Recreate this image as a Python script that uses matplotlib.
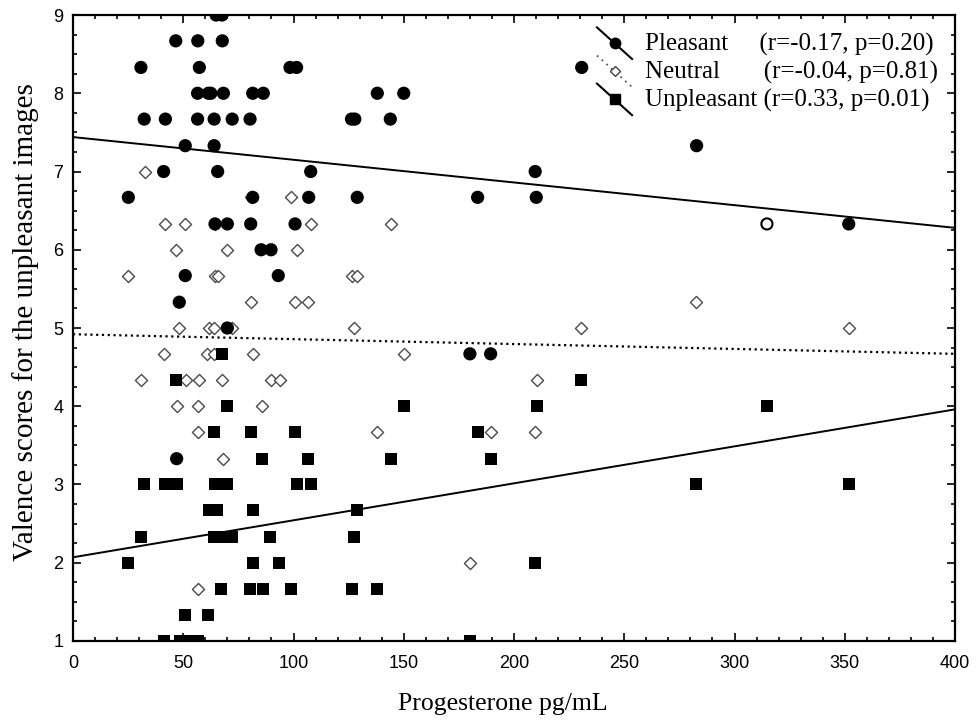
import matplotlib
matplotlib.use("Agg")
import matplotlib.pyplot as plt
from matplotlib.legend_handler import HandlerBase
from matplotlib.lines import Line2D
from matplotlib.ticker import MultipleLocator

# --------- DATA ----------
# Pleasant images (filled circles); one point drawn hollow
pleasant_x = [64.9, 67.6,
              46.6, 56.6, 67.7,
              30.8, 57.3, 98.4, 101.4, 230.7,
              56.5, 61.4, 62.5, 68.2, 81.5, 86.3, 138, 150,
              32.3, 41.9, 56.5, 64, 72.2, 80.3, 126.3, 127.8, 143.9,
              50.9, 64, 282.8,
              41.1, 65.6, 107.8, 209.6,
              25.1, 81.5, 106.9, 128.9, 183.5, 210.1,
              64.4, 70, 80.6, 100.7, 314.7, 351.8,
              85.3, 89.8,
              50.9, 93.1,
              48.2,
              70,
              180, 189.4,
              47]
pleasant_y = [9, 9,
              8.67, 8.67, 8.67,
              8.33, 8.33, 8.33, 8.33, 8.33,
              8, 8, 8, 8, 8, 8, 8, 8,
              7.67, 7.67, 7.67, 7.67, 7.67, 7.67, 7.67, 7.67, 7.67,
              7.33, 7.33, 7.33,
              7, 7, 7, 7,
              6.67, 6.67, 6.67, 6.67, 6.67, 6.67,
              6.33, 6.33, 6.33, 6.33, 6.33, 6.33,
              6, 6,
              5.67, 5.67,
              5.33,
              5,
              4.67, 4.67,
              3.33]
pleasant_hollow = [314.7]

# Neutral images (open diamonds)
neutral_x = [32.7,
             80.6, 98.7,
             41.9, 50.9, 64.4, 107.8, 144.1,
             46.6, 70, 101.4,
             25.1, 64.4, 65.9, 126.4, 128.9,
             80.6, 100.7, 106.7, 282.7,
             48.2, 61.7, 64, 72.2, 127.4, 230.2, 351.8,
             41.1, 60.6, 64, 81.5, 150,
             30.8, 51.2, 57.3, 67.7, 89.8, 93.9, 210.3,
             47, 56.5, 85.6,
             56.5, 138, 189.4, 209.6,
             68.2,
             180,
             56.5]
neutral_y = [7,
             6.67, 6.67,
             6.33, 6.33, 6.33, 6.33, 6.33,
             6, 6, 6,
             5.67, 5.67, 5.67, 5.67, 5.67,
             5.33, 5.33, 5.33, 5.33,
             5, 5, 5, 5, 5, 5, 5,
             4.67, 4.67, 4.67, 4.67, 4.67,
             4.33, 4.33, 4.33, 4.33, 4.33, 4.33, 4.33,
             4, 4, 4,
             3.67, 3.67, 3.67, 3.67,
             3.33,
             2,
             1.67]

# Unpleasant images (filled squares)
unpleasant_x = [67.7,
                46.6, 230.2,
                70, 150, 210.3, 314.7,
                64, 80.6, 100.7, 183.5,
                85.6, 106.7, 144.1, 189.4,
                32.3, 41.9, 47, 64.4, 70, 101.4, 107.8, 282.7, 351.8,
                61.7, 65.2, 81.5, 128.9,
                30.8, 64, 68, 72.1, 89.5, 127.4,
                25.1, 81.5, 93.4, 209.6,
                67.1, 80.3, 86, 98.9, 126.7, 138,
                50.9, 61.1,
                41.1, 48.5, 51.5, 56.8, 180]
unpleasant_y = [4.67,
                4.33, 4.33,
                4, 4, 4, 4,
                3.67, 3.67, 3.67, 3.67,
                3.33, 3.33, 3.33, 3.33,
                3, 3, 3, 3, 3, 3, 3, 3, 3,
                2.67, 2.67, 2.67, 2.67,
                2.33, 2.33, 2.33, 2.33, 2.33, 2.33,
                2, 2, 2, 2,
                1.67, 1.67, 1.67, 1.67, 1.67, 1.67,
                1.33, 1.33,
                1, 1, 1, 1, 1]

# fitted regression lines, value at x=0 and x=400
fit_x = [0, 400]
pleasant_fit = [7.44, 6.28]
neutral_fit = [4.92, 4.67]
unpleasant_fit = [2.07, 3.96]

labels = ["Pleasant     (r=-0.17, p=0.20)",
          "Neutral       (r=-0.04, p=0.81)",
          "Unpleasant (r=0.33, p=0.01)"]

SERIF = "Liberation Serif"
SANS = "Liberation Sans"


class SlantHandler(HandlerBase):
    # legend key: a short falling line with the marker in its middle
    def __init__(self, line_kw, marker_kw):
        super().__init__()
        self.line_kw = line_kw
        self.marker_kw = marker_kw

    def create_artists(self, legend, orig_handle, xdescent, ydescent,
                       width, height, fontsize, trans):
        x0, x1 = -xdescent, -xdescent + width
        y0, y1 = -ydescent + height * 1.3, -ydescent - height * 0.5
        line = Line2D([x0, x1], [y0, y1], **self.line_kw)
        mk = Line2D([(x0 + x1) / 2], [(y0 + y1) / 2], linestyle="none", **self.marker_kw)
        line.set_transform(trans)
        mk.set_transform(trans)
        return [line, mk]


fig = plt.figure(figsize=(9.76, 7.22), dpi=100)
ax = fig.add_axes([0.0748, 0.1122, 0.9037, 0.867])

ax.plot(fit_x, pleasant_fit, color="black", lw=1.4, zorder=2)
ax.plot(fit_x, neutral_fit, color="black", lw=1.6, ls=(0, (1, 1.6)), zorder=2)
ax.plot(fit_x, unpleasant_fit, color="black", lw=1.4, zorder=2)

ax.scatter(neutral_x, neutral_y, marker="D", s=38, facecolors="white",
           edgecolors="#4a4a4a", linewidths=1.0, zorder=3)
ax.scatter(unpleasant_x, unpleasant_y, marker="s", s=64, color="black",
           linewidths=0, zorder=4)
p_face = ["white" if x in pleasant_hollow and y == 6.33 else "black"
          for x, y in zip(pleasant_x, pleasant_y)]
ax.scatter(pleasant_x, pleasant_y, marker="o", s=64, facecolors=p_face,
           edgecolors="black", linewidths=1.5, zorder=5)

ax.set_xlim(0, 400)
ax.set_ylim(1, 9)
ax.xaxis.set_major_locator(MultipleLocator(50))
ax.xaxis.set_minor_locator(MultipleLocator(10))
ax.yaxis.set_major_locator(MultipleLocator(1))
ax.yaxis.set_minor_locator(MultipleLocator(0.25))
ax.tick_params(which="both", direction="in", top=True, right=True,
               labelsize=13, width=1.2)
ax.tick_params(axis="x", pad=10)
ax.tick_params(axis="y", pad=7)
ax.tick_params(which="major", length=6)
ax.tick_params(which="minor", length=3)
for lab in ax.get_xticklabels() + ax.get_yticklabels():
    lab.set_fontfamily(SANS)
for sp in ax.spines.values():
    sp.set_linewidth(1.6)

ax.set_xlabel("Progesterone pg/mL", fontfamily=SERIF, fontsize=18.5)
ax.set_ylabel("Valence scores for the unpleasant images", fontfamily=SERIF,
              fontsize=21)
ax.xaxis.set_label_coords(0.4875, -0.083)
ax.yaxis.set_label_coords(-0.038, 0.51)

h1, h2, h3 = object(), object(), object()
hmap = {
    h1: SlantHandler(dict(color="black", lw=1.5),
                     dict(marker="o", markersize=7.5, color="black")),
    h2: SlantHandler(dict(color="#555555", lw=1.3, ls=(0, (1, 2.5))),
                     dict(marker="D", markersize=5, markerfacecolor="white",
                          markeredgecolor="#444444", markeredgewidth=1.0)),
    h3: SlantHandler(dict(color="black", lw=1.5),
                     dict(marker="s", markersize=7.5, color="black")),
}
leg = ax.legend([h1, h2, h3], labels, handler_map=hmap, loc="upper right",
                bbox_to_anchor=(1.0, 1.0), frameon=False,
                prop={"family": SERIF, "size": 18}, handlelength=1.4,
                handletextpad=0.5, labelspacing=0.2, borderaxespad=0.3)

plt.savefig("out.png", dpi=100)
